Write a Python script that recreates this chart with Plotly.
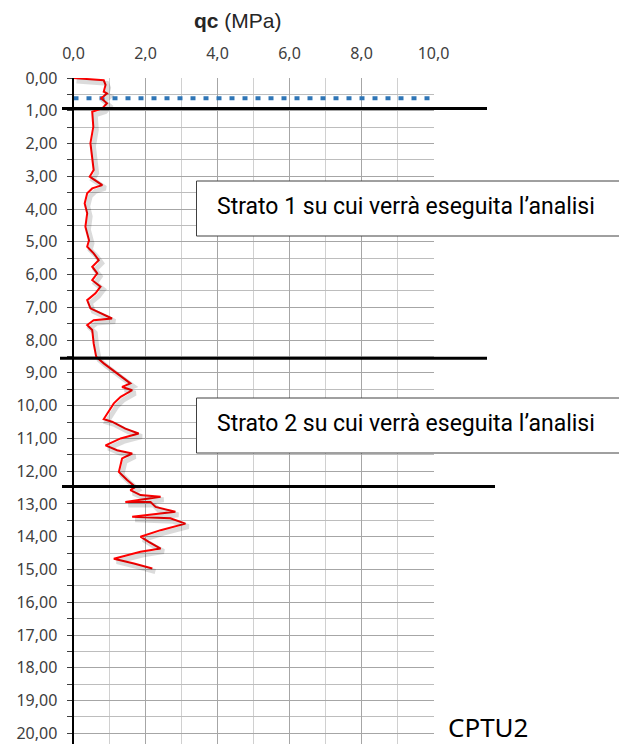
import plotly.graph_objects as go

# ---- data ----
depth_m = [0.00, 0.07, 0.21, 0.42, 0.47, 0.62, 0.77, 0.93, 1.03, 1.49, 1.99, 2.40, 2.81, 3.01,
           3.27, 3.37, 3.52, 3.83, 4.13, 4.54, 4.95, 5.15, 5.35, 5.56, 5.76, 5.96, 6.17, 6.37,
           6.57, 6.78, 7.03, 7.34, 7.39, 7.54, 7.69, 8.10, 8.51, 8.71, 9.02, 9.32, 9.43, 9.53,
           9.73, 9.93, 10.41, 10.49, 10.70, 10.85, 11.00, 11.21, 11.36, 11.46, 11.61, 12.02,
           12.27, 12.48, 12.58, 12.73, 12.78, 12.94, 12.94, 13.09, 13.24, 13.39, 13.44, 13.60,
           13.80, 14.00, 14.16, 14.36, 14.46, 14.67, 14.82, 14.97]
qc_mpa = [0.00, 0.84, 0.89, 0.84, 0.93, 0.77, 0.93, 0.80, 0.52, 0.55, 0.47, 0.52, 0.56, 0.45,
          0.80, 0.52, 0.38, 0.31, 0.38, 0.33, 0.43, 0.38, 0.56, 0.70, 0.52, 0.66, 0.52, 0.75,
          0.61, 0.38, 0.47, 1.07, 0.56, 0.38, 0.52, 0.56, 0.63, 0.84, 1.21, 1.58, 1.35, 1.63,
          1.31, 1.12, 0.84, 1.07, 1.44, 1.81, 1.31, 0.89, 1.21, 1.63, 1.35, 1.26,
          1.49, 1.72, 1.58, 1.86, 2.42, 1.44, 2.14, 2.28, 2.83, 1.63, 2.69, 3.11,
          2.42, 1.86, 2.09, 2.42, 1.86, 1.12, 1.68, 2.19]
water_table_depth = 0.62
layer_boundaries = [0.93, 8.55, 12.47]
layer_labels = ["Strato 1 su cui verrà eseguita l’analisi", "Strato 2 su cui verrà eseguita l’analisi"]
x_ticks = [0, 2, 4, 6, 8, 10]
y_ticks = list(range(0, 21))
chart_label = "CPTU2"

W, H = 619, 744
X0, X1 = 73.5, 433.5      # pixel positions of qc=0 and qc=10
Y0, Y20 = 78.0, 733.3     # pixel positions of depth 0 and 20
ppm = (Y20 - Y0) / 20
y_bottom = (H - Y0) / ppm
ppx = (X1 - X0) / 10

TICK_FONT = dict(family="Noto Sans", size=16, color="#404040")

fig = go.Figure()

# shadow of the qc curve (overlaid axes shifted by a few pixels)
sx, sy = 3 / ppx, 3 / ppm
fig.add_trace(go.Scatter(x=qc_mpa, y=depth_m, mode="lines", xaxis="x2", yaxis="y2",
                         line=dict(color="rgba(0,0,0,0.14)", width=5), hoverinfo="skip",
                         showlegend=False))
fig.add_trace(go.Scatter(x=[0, 10], y=[water_table_depth] * 2, mode="lines",
                         line=dict(color="#2e75b6", width=4, dash="5px,8px"), showlegend=False))
fig.add_trace(go.Scatter(x=qc_mpa, y=depth_m, mode="lines",
                         line=dict(color="#ff0000", width=2), showlegend=False))

dom_x = [X0 / W, X1 / W]
dom_y = [0, 1 - Y0 / H]

fig.update_layout(
    template="none",
    width=W, height=H, margin=dict(l=0, r=0, t=0, b=0, autoexpand=False),
    paper_bgcolor="white", plot_bgcolor="white",
    separators=", ",
    xaxis=dict(domain=dom_x, range=[0, 10], side="top", tickvals=x_ticks, tickformat=".1f",
               automargin=False,
               showgrid=True, gridcolor="#a6a6a6", gridwidth=1, zeroline=False, showline=False,
               ticks="", tickfont=TICK_FONT, ticklabelstandoff=15,
               minor=dict(dtick=1, showgrid=True, gridcolor="#d0d0d0", gridwidth=1)),
    yaxis=dict(domain=dom_y, range=[y_bottom, 0], tickvals=y_ticks, tickformat=".2f",
               automargin=False,
               showgrid=True, gridcolor="#a6a6a6", gridwidth=1, zeroline=False,
               showline=True, linecolor="black", linewidth=2,
               ticks="outside", ticklen=5, tickcolor="#404040", tickfont=TICK_FONT,
               ticklabelstandoff=6,
               minor=dict(dtick=0.5, showgrid=True, gridcolor="#bdbdbd", gridwidth=1,
                          ticks="outside", ticklen=5, tickcolor="#404040")),
    xaxis2=dict(domain=dom_x, range=[-sx, 10 - sx], overlaying="x", visible=False,
                automargin=False),
    yaxis2=dict(domain=dom_y, range=[y_bottom - sy, -sy], overlaying="y", visible=False,
                automargin=False),
)

# layer boundary lines
line_spans = [(62, 487), (60, 487), (62, 495)]
for d, (a, b) in zip(layer_boundaries, line_spans):
    fig.add_shape(type="line", xref="paper", yref="y", x0=a / W, x1=b / W, y0=d, y1=d,
                  line=dict(color="black", width=3), layer="above")

# text boxes
boxes = [(181, 236, 207), (398, 453, 423)]
for (top, bot, mid), txt in zip(boxes, layer_labels):
    fig.add_shape(type="rect", xref="paper", yref="paper", x0=196.5 / W, x1=1.2,
                  y0=1 - bot / H, y1=1 - top / H,
                  line=dict(color="#404040", width=1), fillcolor="white", layer="above")
    fig.add_annotation(text=txt, xref="paper", yref="paper", x=215 / W, y=1 - mid / H,
                       xanchor="left", yanchor="middle", showarrow=False,
                       font=dict(family="Roboto", size=23, color="black"))

fig.add_annotation(text="<b>qc</b> (MPa)", xref="paper", yref="paper", x=238 / W, y=1 - 21 / H,
                   xanchor="center", yanchor="middle", showarrow=False,
                   font=dict(family="Liberation Sans", size=21, color="#262626"))
fig.add_annotation(text=chart_label, xref="paper", yref="paper", x=446 / W, y=1 - 727 / H,
                   xanchor="left", yanchor="middle", showarrow=False,
                   font=dict(family="Noto Sans", size=26, color="black"))

fig.write_html("out.html", config={"displayModeBar": False},
               post_script="document.body.style.margin='0';document.body.style.overflow='hidden';")
